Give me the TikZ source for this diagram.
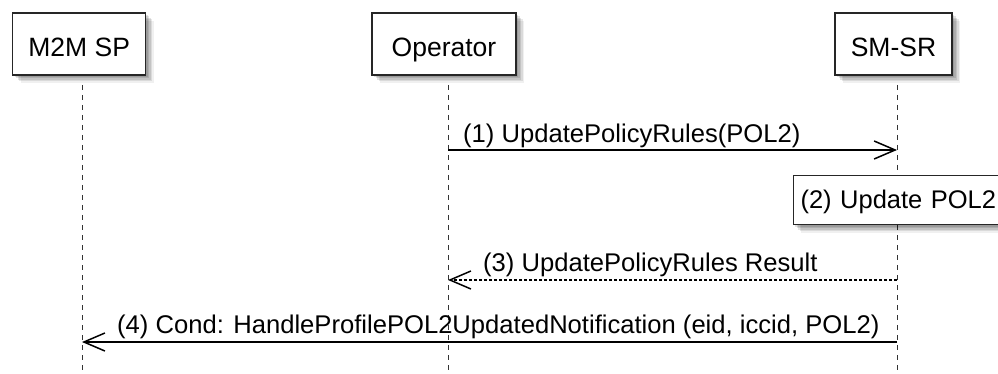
\documentclass[tikz,border=0pt]{standalone}
\usepackage{fontspec}
\setmainfont{Liberation Sans}
\usetikzlibrary{shadows,arrows.meta}
\begin{document}
\begin{tikzpicture}[x=1pt,y=-1pt,
  softshadow/.style={
    general shadow={shadow xshift=2pt,shadow yshift=-2pt,fill=black,opacity=.11},
    general shadow={shadow xshift=3.5pt,shadow yshift=-3.5pt,fill=black,opacity=.11},
    general shadow={shadow xshift=5pt,shadow yshift=-5pt,fill=black,opacity=.11},
    general shadow={shadow xshift=6.5pt,shadow yshift=-6.5pt,fill=black,opacity=.09},
    general shadow={shadow xshift=8pt,shadow yshift=-8pt,fill=black,opacity=.06}},
  part/.style={draw=black!85,line width=1.5pt,fill=white,softshadow,
    minimum height=62pt,inner sep=0pt,text height=26pt,text depth=0pt,
    font=\fontsize{26.5pt}{30pt}\selectfont},
  notebox/.style={draw=black!85,line width=1pt,fill=white,softshadow,
    minimum height=49pt,text width=198pt,inner xsep=7.5pt,inner ysep=0pt,align=left,
    text height=17pt,text depth=0pt,
    font=\fontsize{25.5pt}{30pt}\selectfont},
  lifeline/.style={draw=black!80,line width=1pt,dash pattern=on 5pt off 5pt},
  msg/.style={draw=black,line width=1.5pt,-{Straight Barb[length=21pt,width=18pt,line width=1.5pt]}},
  reply/.style={msg,dash pattern=on 3pt off 2pt},
  lbl/.style={anchor=base west,inner sep=0pt,font=\fontsize{25.6pt}{30pt}\selectfont}]
\useasboundingbox (0,0) rectangle (998,374);

% lifelines
\coordinate (m2mtop) at (82,85);   \coordinate (m2mbot) at (82,374);
\coordinate (optop) at (448,85);   \coordinate (opbot) at (448,374);
\coordinate (srtop) at (897,85);   \coordinate (srbot) at (897,374);
\draw[lifeline] (m2mtop) -- (m2mbot);
\draw[lifeline] (optop) -- (opbot);
\draw[lifeline] (srtop) -- (srbot);

% participants
\node[part,minimum width=133pt] (m2m) at (79.2,44) {M2M SP};
\node[part,minimum width=144pt] (op) at (444,44) {Operator};
\node[part,minimum width=117pt] (sr) at (893.5,44) {SM-SR};

% message endpoints on lifelines
\coordinate (op1) at (448,150); \coordinate (sr1) at (897,150);
\coordinate (sr3) at (897,280); \coordinate (op3) at (448,280);
\coordinate (sr4) at (897,342); \coordinate (m2m4) at (82,342);

% (1)
\draw[msg] (op1) -- (sr1);
\node[lbl] (l1) at (463,143) {(1) UpdatePolicyRules(POL2)};

% (2) note
\node[notebox,anchor=north west] (n2) at (792.5,175) {(2) Update POL2};

% (3)
\draw[reply] (sr3) -- (op3);
\node[lbl] (l3) at (483,271) {(3) UpdatePolicyRules Result};

% (4)
\draw[msg] (sr4) -- (m2m4);
\node[lbl] (l4) at (117,333) {(4) Cond: HandleProfilePOL2UpdatedNotification (eid, iccid, POL2)};
\end{tikzpicture}
\end{document}
